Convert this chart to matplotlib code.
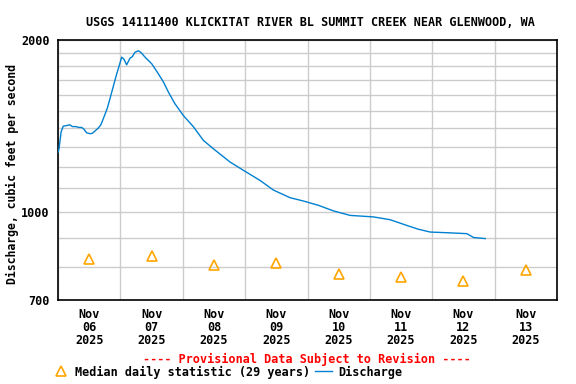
import matplotlib
matplotlib.use("Agg")
import matplotlib.pyplot as plt
import matplotlib.dates as mdates
import pandas as pd
from matplotlib.ticker import FixedLocator, NullFormatter, FixedFormatter

# discharge readings (hours after Nov 06 00:00, cfs)
hours = [0.0, 0.4, 1.2, 2.0, 3.0, 4.6, 5.5, 6.9, 8.0, 9.1, 10.0, 11.0, 12.3, 13.2, 14.2,
         15.4, 16.5, 17.7, 19.0, 20.0, 21.3, 22.6, 23.5, 24.5, 25.4, 26.4, 27.7, 28.6,
         29.6, 30.9, 32.0, 33.5, 36.1, 38.6, 40.5, 42.5, 45.0, 48.2, 52.1, 55.9, 59.8,
         63.0, 66.2, 71.3, 77.8, 82.9, 89.3, 94.4, 100.2, 106.0, 112.4, 117.0, 121.4,
         127.8, 134.2, 138.5, 143.2, 150.9, 157.3, 159.9, 164.4]
discharge = [1270, 1290, 1380, 1412, 1415, 1420, 1410, 1410, 1405, 1405, 1395, 1375, 1370,
             1372, 1385, 1400, 1420, 1466, 1520, 1578, 1660, 1745, 1800, 1866, 1850, 1809,
             1858, 1870, 1903, 1915, 1900, 1866, 1816, 1745, 1690, 1620, 1546, 1475, 1409,
             1334, 1289, 1255, 1222, 1182, 1134, 1091, 1058, 1044, 1026, 1003, 985, 982,
             979, 968, 946, 932, 921, 918, 915, 901, 897]

# median daily statistic at noon of each day
median_days = ["2025-11-06", "2025-11-07", "2025-11-08", "2025-11-09",
               "2025-11-10", "2025-11-11", "2025-11-12", "2025-11-13"]
median_vals = [827, 835, 807, 814, 776, 769, 755, 791]

tick_labels = ["Nov\n06\n2025", "Nov\n07\n2025", "Nov\n08\n2025", "Nov\n09\n2025",
               "Nov\n10\n2025", "Nov\n11\n2025", "Nov\n12\n2025", "Nov\n13\n2025"]

font = "DejaVu Sans Mono"
plt.rcParams["font.family"] = font
plt.rcParams["font.weight"] = "bold"

start = pd.Timestamp("2025-11-06")
t = [start + pd.Timedelta(hours=h) for h in hours]
t_med = [pd.Timestamp(d) + pd.Timedelta(hours=12) for d in median_days]

fig = plt.figure(figsize=(5.76, 3.84), dpi=100)
ax = fig.add_axes([58 / 576, 1 - 300 / 384, 499 / 576, 260 / 384])

ax.plot(t, discharge, color="#0080d0", linewidth=1.0, zorder=3)
ax.plot(t_med, median_vals, linestyle="none", marker="^", markersize=7.5,
        markerfacecolor="none", markeredgecolor="#ffa500", markeredgewidth=1.2, zorder=4)

ax.set_yscale("log")
ax.set_ylim(700, 2000)
ax.yaxis.set_major_locator(FixedLocator([700, 1000, 2000]))
ax.yaxis.set_major_formatter(FixedFormatter(["700", "1000", "2000"]))
ax.yaxis.set_minor_locator(FixedLocator(list(range(800, 2000, 100))))
ax.yaxis.set_minor_formatter(NullFormatter())

ax.set_xlim(start, start + pd.Timedelta(days=8))
ax.xaxis.set_major_locator(mdates.DayLocator())
ax.xaxis.set_major_formatter(NullFormatter())
ax.xaxis.set_minor_locator(FixedLocator([mdates.date2num(x) for x in t_med]))
ax.xaxis.set_minor_formatter(FixedFormatter(tick_labels))

ax.grid(True, which="both", axis="y", color="#cccccc", linewidth=1.0)
ax.grid(True, which="major", axis="x", color="#cccccc", linewidth=1.0)
ax.tick_params(axis="both", which="both", length=0)
ax.tick_params(axis="x", which="minor", pad=6, labelsize=8.5)
ax.tick_params(axis="y", which="major", pad=6, labelsize=8.5)
for lab in ax.xaxis.get_minorticklabels():
    lab.set_linespacing(1.0)
    lab.set_fontweight("bold")
for lab in ax.get_yticklabels():
    lab.set_fontweight("bold")
for sp in ax.spines.values():
    sp.set_linewidth(1.2)
    sp.set_color("black")

fig.text(12 / 576, 1 - 174 / 384, "Discharge, cubic feet per second", rotation=90,
         ha="center", va="center", fontsize=8.3, fontweight="bold")

fig.text(310 / 576, 1 - 22 / 384, "USGS 14111400 KLICKITAT RIVER BL SUMMIT CREEK NEAR GLENWOOD, WA",
         ha="center", va="center", fontsize=8.5, fontweight="bold")
fig.text(307 / 576, 1 - 359 / 384, "---- Provisional Data Subject to Revision ----",
         ha="center", va="center", fontsize=8.5, fontweight="bold", color="red")

fig.lines.append(plt.Line2D([61 / 576], [1 - 371 / 384], transform=fig.transFigure,
                            marker="^", markersize=7.5, markerfacecolor="none",
                            markeredgecolor="#ffa500", markeredgewidth=1.2, linestyle="none"))
fig.text(75 / 576, 1 - 372 / 384, "Median daily statistic (29 years)",
         ha="left", va="center", fontsize=8.5, fontweight="bold")
fig.lines.append(plt.Line2D([315 / 576, 332 / 576], [1 - 371 / 384, 1 - 371 / 384],
                            transform=fig.transFigure, color="#0080d0", linewidth=1.0))
fig.text(338 / 576, 1 - 372 / 384, "Discharge",
         ha="left", va="center", fontsize=8.5, fontweight="bold")

fig.savefig("out.png", dpi=100)
